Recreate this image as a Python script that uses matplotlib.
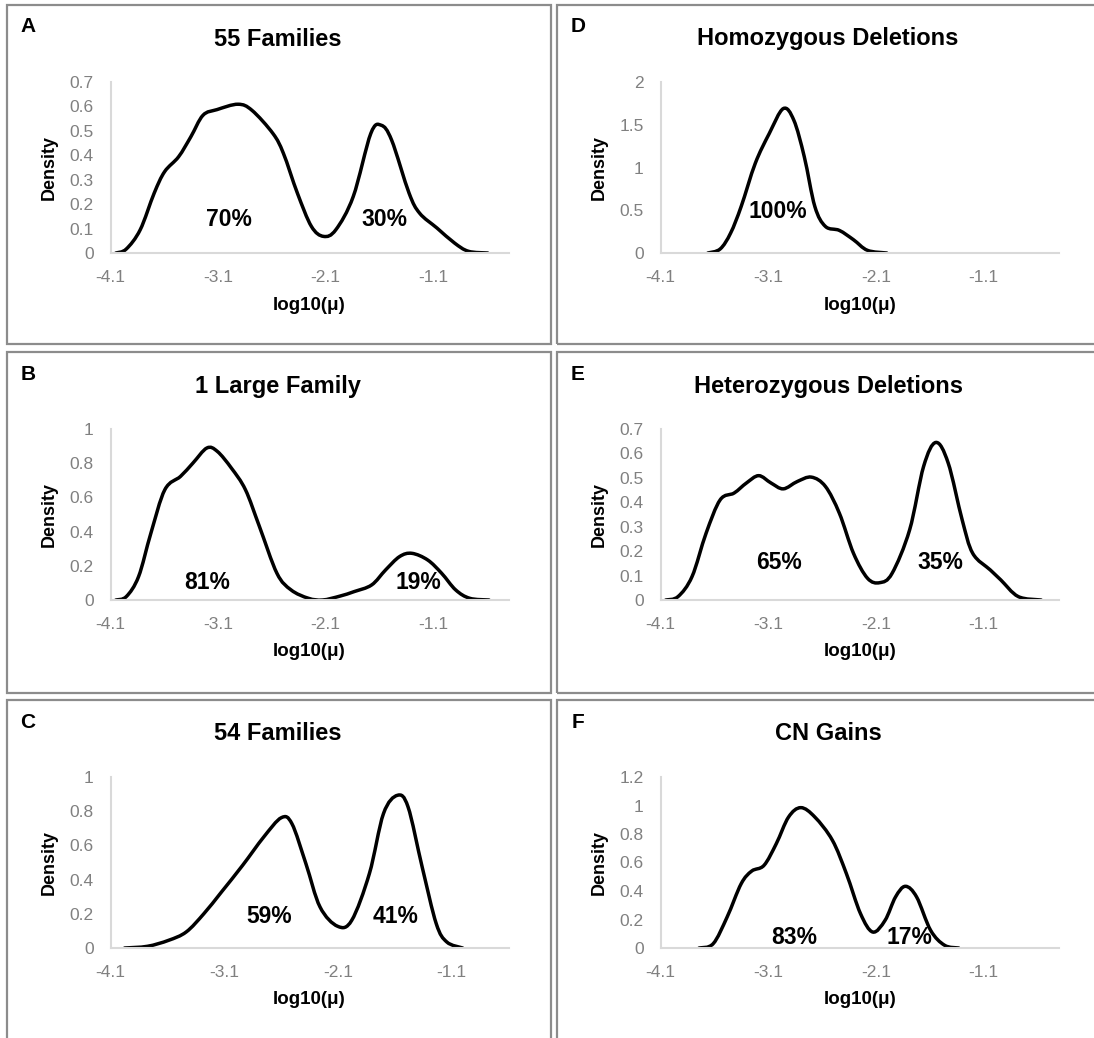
import numpy as np
import matplotlib
matplotlib.use("Agg")
import matplotlib.pyplot as plt
from matplotlib.path import Path
from matplotlib.patches import PathPatch, Rectangle
from matplotlib.ticker import FuncFormatter

plt.rcParams['font.family'] = ['Liberation Sans', 'DejaVu Sans']

W, H = 1094, 1038

# ---- data: density curves of log10(mutation rate) ----
a_x = [-4.05, -3.954, -3.824, -3.694, -3.597, -3.467, -3.353, -3.24, -3.11, -2.915, -2.785,
       -2.59, -2.493, -2.363, -2.233, -2.12, -2.006, -1.844, -1.681, -1.584, -1.487, -1.325,
       -1.227, -1.065, -0.903, -0.773, -0.594]
a_y = [0.0, 0.016, 0.095, 0.245, 0.333, 0.394, 0.476, 0.564, 0.587, 0.609, 0.584,
       0.489, 0.408, 0.245, 0.109, 0.068, 0.095, 0.231, 0.489, 0.523, 0.462, 0.245,
       0.163, 0.102, 0.041, 0.007, 0.0]

b_x = [-4.05, -3.953, -3.839, -3.725, -3.595, -3.449, -3.335, -3.204, -3.107, -2.976, -2.846,
       -2.716, -2.553, -2.422, -2.26, -2.129, -1.966, -1.836, -1.673, -1.543, -1.413, -1.299,
       -1.152, -1.022, -0.892, -0.761, -0.582]
b_y = [0.0, 0.02, 0.137, 0.39, 0.645, 0.723, 0.80, 0.889, 0.869, 0.771, 0.645,
       0.43, 0.156, 0.059, 0.01, 0.0, 0.023, 0.049, 0.088, 0.176, 0.254, 0.273,
       0.234, 0.156, 0.059, 0.01, 0.0]

c_x = [-3.976, -3.775, -3.589, -3.434, -3.28, -3.125, -2.939, -2.753, -2.598, -2.505, -2.382,
       -2.258, -2.103, -1.979, -1.824, -1.7, -1.577, -1.484, -1.36, -1.236, -1.143, -1.004]
c_y = [0.0, 0.01, 0.045, 0.094, 0.20, 0.327, 0.483, 0.649, 0.762, 0.727, 0.493,
       0.24, 0.127, 0.162, 0.435, 0.786, 0.893, 0.825, 0.474, 0.142, 0.035, 0.0]

d_x = [-3.66, -3.546, -3.449, -3.351, -3.22, -3.09, -2.96, -2.862, -2.765, -2.667, -2.569,
       -2.439, -2.308, -2.178, -1.999]
d_y = [0.0, 0.047, 0.233, 0.544, 1.049, 1.398, 1.689, 1.553, 1.126, 0.544, 0.311,
       0.264, 0.155, 0.031, 0.0]

e_x = [-4.051, -3.937, -3.807, -3.677, -3.546, -3.416, -3.302, -3.188, -3.074, -2.96, -2.83,
       -2.699, -2.569, -2.439, -2.308, -2.178, -2.064, -1.95, -1.787, -1.657, -1.543, -1.429,
       -1.299, -1.201, -1.038, -0.94, -0.778, -0.566]
e_y = [0.0, 0.014, 0.096, 0.273, 0.41, 0.438, 0.479, 0.509, 0.479, 0.455, 0.485,
       0.503, 0.465, 0.355, 0.191, 0.089, 0.071, 0.109, 0.287, 0.547, 0.645, 0.561,
       0.328, 0.191, 0.123, 0.082, 0.014, 0.0]

f_x = [-3.742, -3.611, -3.481, -3.351, -3.253, -3.139, -3.025, -2.911, -2.797, -2.667, -2.504,
       -2.374, -2.243, -2.129, -2.015, -1.918, -1.826, -1.722, -1.592, -1.462, -1.331]
f_y = [0.0, 0.03, 0.218, 0.451, 0.54, 0.58, 0.732, 0.919, 0.985, 0.919, 0.756,
       0.522, 0.241, 0.112, 0.194, 0.358, 0.433, 0.358, 0.124, 0.019, 0.0]

titles = ["55 Families", "1 Large Family", "54 Families",
          "Homozygous Deletions", "Heterozygous Deletions", "CN Gains"]
letters = ["A", "B", "C", "D", "E", "F"]

x_ticks = [-4.1, -3.1, -2.1, -1.1]
x_tick_labels = ["-4.1", "-3.1", "-2.1", "-1.1"]

a_yticks = [0, 0.1, 0.2, 0.3, 0.4, 0.5, 0.6, 0.7]
b_yticks = [0, 0.2, 0.4, 0.6, 0.8, 1.0]
c_yticks = [0, 0.2, 0.4, 0.6, 0.8, 1.0]
d_yticks = [0, 0.5, 1.0, 1.5, 2.0]
e_yticks = [0, 0.1, 0.2, 0.3, 0.4, 0.5, 0.6, 0.7]
f_yticks = [0, 0.2, 0.4, 0.6, 0.8, 1.0, 1.2]

# share labels: text, x, y (data coordinates)
a_pct = [("70%", -3.0, 0.136), ("30%", -1.55, 0.136)]
b_pct = [("81%", -3.204, 0.10), ("19%", -1.234, 0.10)]
c_pct = [("59%", -2.707, 0.185), ("41%", -1.592, 0.185)]
d_pct = [("100%", -3.009, 0.485)]
e_pct = [("65%", -3.0, 0.153), ("35%", -1.5, 0.153)]
f_pct = [("83%", -2.856, 0.077), ("17%", -1.787, 0.077)]

x_max = [-0.4, -0.4, -0.6, -0.4, -0.4, -0.4]

curves = [(a_x, a_y), (b_x, b_y), (c_x, c_y), (d_x, d_y), (e_x, e_y), (f_x, f_y)]
yticks_all = [a_yticks, b_yticks, c_yticks, d_yticks, e_yticks, f_yticks]
pcts = [a_pct, b_pct, c_pct, d_pct, e_pct, f_pct]


def smooth_path(x, y):
    """Catmull-Rom style cubic Bezier through the points (like a smoothed line)."""
    p = np.column_stack([x, y]).astype(float)
    n = len(p)
    verts = [p[0]]
    codes = [Path.MOVETO]
    for i in range(n - 1):
        p0 = p[i - 1] if i > 0 else p[i]
        p1 = p[i]
        p2 = p[i + 1]
        p3 = p[i + 2] if i + 2 < n else p[i + 1]
        c1 = p1 + (p2 - p0) / 6.0
        c2 = p2 - (p3 - p1) / 6.0
        verts += [c1, c2, p2]
        codes += [Path.CURVE4] * 3
    return Path(verts, codes)


fig = plt.figure(figsize=(W / 100, H / 100), dpi=100)

BORDER = "#8c8c8c"
SPINE = "#d9d9d9"
TICK = "#808080"

# panel boxes (pixel coordinates: left, top, right, bottom)
boxes = [(7, 5, 551, 344), (7, 352, 551, 693), (7, 700, 551, 1060),
         (557, 5, 1101, 344), (557, 352, 1101, 693), (557, 700, 1101, 1060)]
# axes rectangles (pixel: left, top, right, bottom)
col_lr = [(110.5, 508.6), (660.5, 1059.0)]
row_tb = [(82, 253), (429, 600), (777, 948)]


def fx(px):
    return px / W


def fy(py):
    return 1 - py / H


for k in range(6):
    col, row = k // 3, k % 3
    bl, bt, br, bb = boxes[k]
    fig.add_artist(Rectangle((fx(bl), fy(bb)), fx(br) - fx(bl), fy(bt) - fy(bb),
                             transform=fig.transFigure, fill=False,
                             ec=BORDER, lw=1.6, clip_on=False))

    l, r = col_lr[col]
    t, b = row_tb[row]
    ax = fig.add_axes([fx(l), fy(b), (r - l) / W, (b - t) / H])
    xs, ys = curves[k]
    ax.add_patch(PathPatch(smooth_path(xs, ys), fill=False, ec="black",
                           lw=2.5, capstyle="round", joinstyle="round"))
    ax.set_xlim(-4.1, x_max[k])
    yt = yticks_all[k]
    ax.set_ylim(0, yt[-1])
    ax.set_yticks(yt)
    ax.yaxis.set_major_formatter(FuncFormatter(lambda v, p: f"{v:g}"))
    ax.set_xticks(x_ticks)
    ax.set_xticklabels(x_tick_labels)
    for s in ["top", "right"]:
        ax.spines[s].set_visible(False)
    for s in ["left", "bottom"]:
        ax.spines[s].set_color(SPINE)
        ax.spines[s].set_linewidth(1.5)
    ax.tick_params(length=0, labelcolor=TICK, labelsize=12.5)
    ax.tick_params(axis="y", pad=12)
    ax.tick_params(axis="x", pad=12.5)
    ax.patch.set_alpha(0)

    for txt, tx, ty in pcts[k]:
        ax.text(tx, ty, txt, ha="center", va="center", fontsize=16.5,
                fontweight="bold", color="black")

    # panel letter, title, axis labels
    cx = (bl + br) / 2
    fig.text(fx(bl + 21), fy(bt + 22), letters[k], ha="center", va="center",
             fontsize=15, fontweight="bold")
    fig.text(fx(cx - 1), fy(bt + 34), titles[k], ha="center", va="center",
             fontsize=17, fontweight="bold")
    fig.text(fx(l - 61), fy((t + b) / 2), "Density", rotation=90,
             ha="center", va="center", fontsize=13, fontweight="bold")
    fig.text(fx((l + r) / 2), fy(b + 52), "log10(μ)", ha="center",
             va="center", fontsize=13.5, fontweight="bold")

fig.savefig("out.png", dpi=100)
